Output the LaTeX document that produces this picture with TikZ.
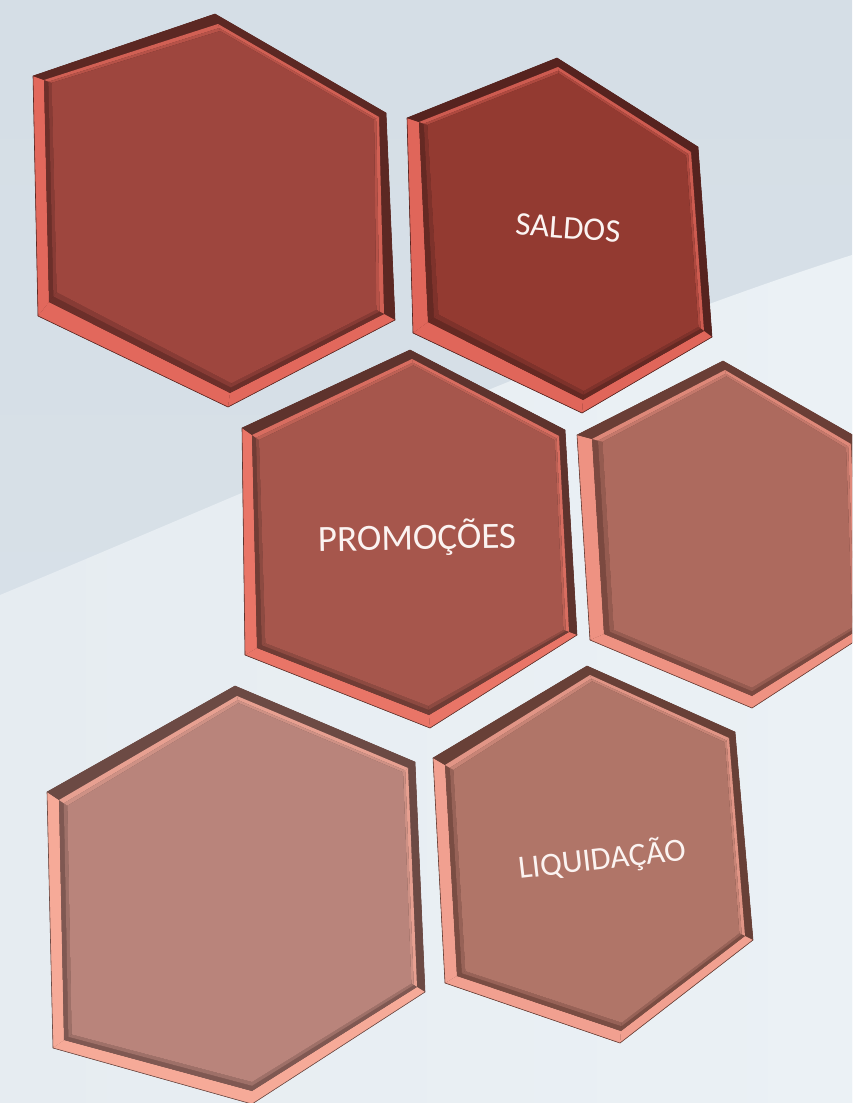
\documentclass[tikz,border=0pt]{standalone}
\usepackage{fontspec}
\setmainfont{Carlito}
\usetikzlibrary{calc}

\definecolor{bgtop}{HTML}{D5DEE6}
\definecolor{bgtopb}{HTML}{D9E2E9}
\definecolor{bglow}{HTML}{E6ECF1}
\definecolor{bglowb}{HTML}{EBF1F5}
\definecolor{labelcol}{HTML}{FBF3F1}

\definecolor{faceA}{HTML}{9E463E}\definecolor{liteA}{HTML}{E2685C}\definecolor{darkA}{HTML}{5C2823}
\definecolor{faceB}{HTML}{933A31}\definecolor{liteB}{HTML}{E0665A}\definecolor{darkB}{HTML}{56231F}
\definecolor{faceC}{HTML}{A6564C}\definecolor{liteC}{HTML}{E97567}\definecolor{darkC}{HTML}{5E332D}
\definecolor{faceD}{HTML}{AD6A5E}\definecolor{liteD}{HTML}{EE9282}\definecolor{darkD}{HTML}{6A3E36}
\definecolor{faceE}{HTML}{B9847B}\definecolor{liteE}{HTML}{F6AA98}\definecolor{darkE}{HTML}{6C4A44}
\definecolor{faceF}{HTML}{B07568}\definecolor{liteF}{HTML}{F1A090}\definecolor{darkF}{HTML}{684037}

\tikzset{
  hexlabel/.style={text=labelcol, inner sep=0pt, font=\fontsize{#1}{#1}\selectfont},
}

% #1 prefix; outer corners #1o1..#1o6 and bevel corners #1i1..#1i6 must exist
% #2 face colour, #3 lit bevel colour, #4 shaded bevel colour
\newcommand\bevelhex[4]{%
  \foreach \k in {1,...,6}{
    \coordinate (#1f\k) at ($(#1o\k)!1.4!(#1i\k)$);
    \coordinate (#1g\k) at ($(#1o\k)!1.7!(#1i\k)$);
  }
  % soft drop shadow
  \foreach \s/\op in {6/0.05,4/0.06,2/0.07}{
    \fill[black,opacity=\op,shift={(-\s*0.4pt,-\s*1pt)}]
      (#1o1) -- (#1o2) -- (#1o3) -- (#1o4) -- (#1o5) -- (#1o6) -- cycle;
  }
  \fill[#4] (#1o1) -- (#1o2) -- (#1o3) -- (#1o4) -- (#1o5) -- (#1o6) -- cycle;
  \foreach \a/\b/\oc/\ic in {1/2/#4/#3,2/3/#4/#3,3/4/#3/#4,4/5/#3/#4,5/6/#3/#4,6/1/#4/#3}{
    \fill[\oc] (#1o\a) -- (#1o\b) -- (#1i\b) -- (#1i\a) -- cycle;
    \fill[\ic!75!#2] (#1i\a) -- (#1i\b) -- (#1f\b) -- (#1f\a) -- cycle;
    \fill[\ic!35!#2] (#1f\a) -- (#1f\b) -- (#1g\b) -- (#1g\a) -- cycle;
  }
  \fill[#2] (#1g1) -- (#1g2) -- (#1g3) -- (#1g4) -- (#1g5) -- (#1g6) -- cycle;
  \draw[#4,line width=0.6pt,line join=round]
    (#1o1) -- (#1o2) -- (#1o3) -- (#1o4) -- (#1o5) -- (#1o6) -- cycle;
}

\begin{document}
\begin{tikzpicture}[x=1pt,y=-1pt]
  \useasboundingbox (0,0) rectangle (852,1103);
  \clip (0,0) rectangle (852,1103);

  % backdrop: two planes meeting along a slanted line
  \shade[top color=bgtop, bottom color=bgtopb] (0,0) rectangle (852,1103);
  \shade[left color=bglow, right color=bglowb]
    (0,595) .. controls (300,470) and (600,335) .. (852,255) -- (852,1103) -- (0,1103) -- cycle;

  % tile A (upper left)
  \coordinate (ao1) at (215,14);  \coordinate (ai1) at (218,24);
  \coordinate (ao2) at (386,113); \coordinate (ai2) at (379,117);
  \coordinate (ao3) at (395,320); \coordinate (ai3) at (384,314);
  \coordinate (ao4) at (228,407); \coordinate (ai4) at (230,393);
  \coordinate (ao5) at (38,316);  \coordinate (ai5) at (49,302);
  \coordinate (ao6) at (33,76);   \coordinate (ai6) at (44,80);
  \bevelhex{a}{faceA}{liteA}{darkA}

  % tile B (SALDOS)
  \coordinate (bo1) at (557,58);  \coordinate (bi1) at (558,67);
  \coordinate (bo2) at (698,147); \coordinate (bi2) at (691,152);
  \coordinate (bo3) at (712,337); \coordinate (bi3) at (704,331);
  \coordinate (bo4) at (582,413); \coordinate (bi4) at (583,400);
  \coordinate (bo5) at (413,333); \coordinate (bi5) at (428,322);
  \coordinate (bo6) at (407,118); \coordinate (bi6) at (419,122);
  \bevelhex{b}{faceB}{liteB}{darkB}

  % tile C (PROMOCOES)
  \coordinate (co1) at (410,350); \coordinate (ci1) at (412,359);
  \coordinate (co2) at (565,430); \coordinate (ci2) at (559,436);
  \coordinate (co3) at (577,635); \coordinate (ci3) at (569,632);
  \coordinate (co4) at (430,728); \coordinate (ci4) at (429,715);
  \coordinate (co5) at (245,655); \coordinate (ci5) at (257,648);
  \coordinate (co6) at (242,428); \coordinate (ci6) at (252,435);
  \bevelhex{c}{faceC}{liteC}{darkC}

  % tile D (right, running off the edge)
  \coordinate (do1) at (723,361); \coordinate (di1) at (725,370);
  \coordinate (do2) at (858,438); \coordinate (di2) at (851,444);
  \coordinate (do3) at (866,634); \coordinate (di3) at (858,630);
  \coordinate (do4) at (752,708); \coordinate (di4) at (752,696);
  \coordinate (do5) at (590,640); \coordinate (di5) at (604,634);
  \coordinate (do6) at (577,435); \coordinate (di6) at (592,439);
  \bevelhex{d}{faceD}{liteD}{darkD}

  % tile E (lower left)
  \coordinate (eo1) at (235,686);  \coordinate (ei1) at (237,696);
  \coordinate (eo2) at (415,762);  \coordinate (ei2) at (408,768);
  \coordinate (eo3) at (425,992);  \coordinate (ei3) at (417,987);
  \coordinate (eo4) at (252,1104); \coordinate (ei4) at (252,1091);
  \coordinate (eo5) at (53,1048);  \coordinate (ei5) at (64,1040);
  \coordinate (eo6) at (47,792);   \coordinate (ei6) at (59,800);
  \bevelhex{e}{faceE}{liteE}{darkE}

  % tile F (LIQUIDACAO)
  \coordinate (fo1) at (587,666);  \coordinate (fi1) at (590,675);
  \coordinate (fo2) at (735,732);  \coordinate (fi2) at (729,738);
  \coordinate (fo3) at (753,940);  \coordinate (fi3) at (745,936);
  \coordinate (fo4) at (620,1043); \coordinate (fi4) at (621,1031);
  \coordinate (fo5) at (445,983);  \coordinate (fi5) at (457,976);
  \coordinate (fo6) at (433,758);  \coordinate (fi6) at (445,765);
  \bevelhex{f}{faceF}{liteF}{darkF}

  % labels
  \node[hexlabel=33, rotate=-4.3] (saldos) at (568,228) {SALDOS};
  \node[hexlabel=37, rotate=1] (promocoes) at (417,538) {PROMOÇÕES};
  \node[hexlabel=32.5, rotate=6.5] (liquidacao) at (602,859) {LIQUIDAÇÃO};
\end{tikzpicture}
\end{document}
